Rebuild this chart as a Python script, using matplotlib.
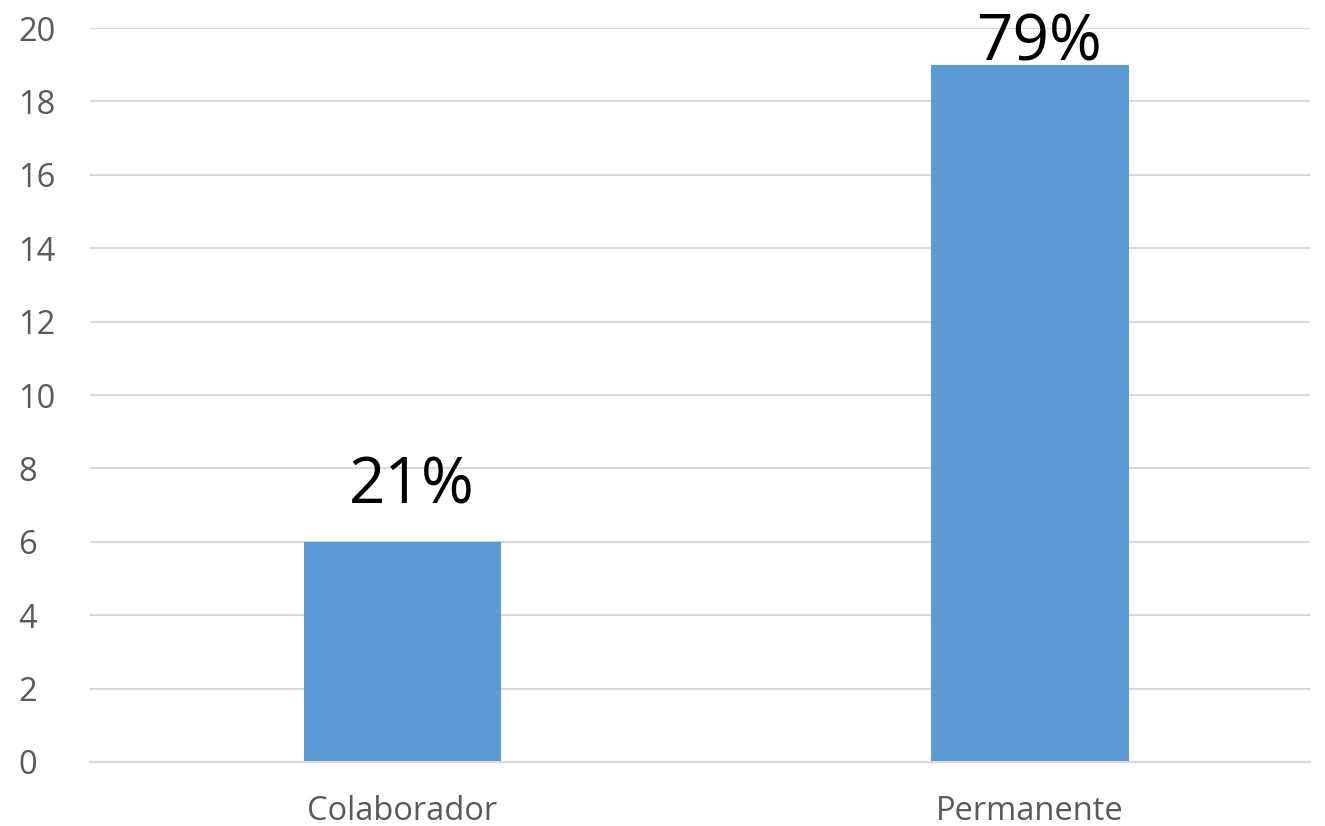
from matplotlib import pyplot as plt

categories = ["Colaborador", "Permanente"]
counts = [6, 19]
labels = ["21%", "79%"]

plt.rcParams["font.family"] = ["Open Sans", "DejaVu Sans"]

fig = plt.figure(figsize=(13.25, 8.26), dpi=100)
ax = fig.add_axes([0.068, 0.0775, 0.9207, 0.8885])

x = range(len(categories))
ax.bar(x, counts, width=0.314, color="#5b9bd5", zorder=2)

for i, (v, lab) in enumerate(zip(counts, labels)):
    ax.text(i + 0.015, min(v + 1.05, 19.13), lab, ha="center", va="baseline",
            fontsize=46, color="black", zorder=3)

ax.set_xlim(-0.497, 1.446)
ax.set_ylim(0, 20)
ax.set_yticks(range(0, 21, 2))
ax.set_xticks(list(x))
ax.set_xticklabels(categories)
ax.yaxis.grid(True, color="#d9d9d9", linewidth=1.5, zorder=0)
ax.set_axisbelow(True)
for s in ["top", "right", "left"]:
    ax.spines[s].set_visible(False)
ax.spines["bottom"].set_color("#d9d9d9")
ax.spines["bottom"].set_linewidth(1.5)
ax.tick_params(axis="both", length=0, labelsize=23.5, colors="#595959")
ax.tick_params(axis="x", pad=24)
ax.tick_params(axis="y", pad=52)
for t in ax.get_yticklabels():
    t.set_horizontalalignment("left")

plt.savefig("out.png", dpi=100)
